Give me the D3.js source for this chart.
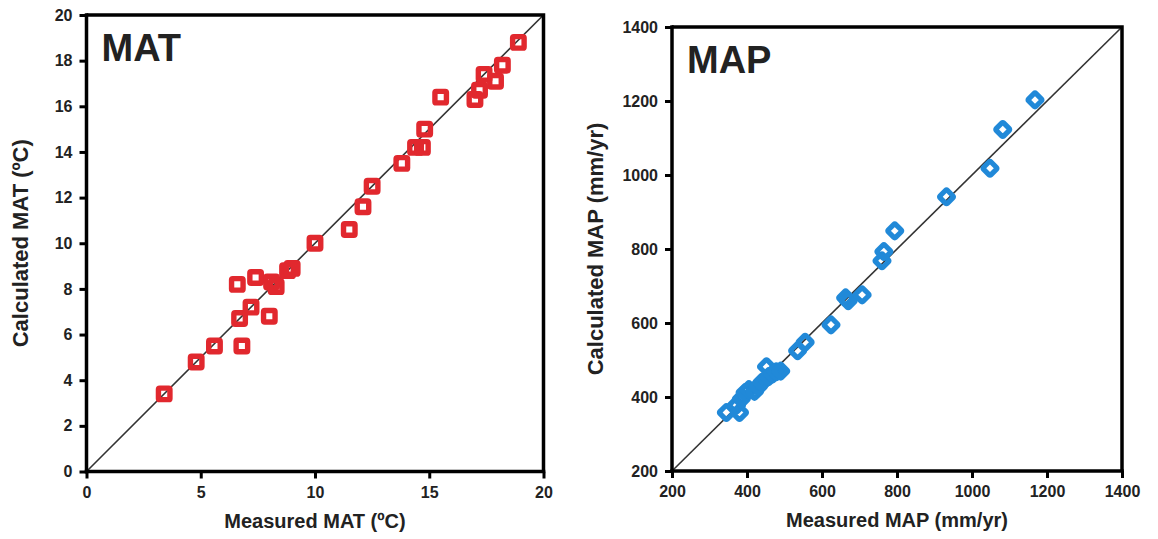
<!DOCTYPE html>
<html>
<head>
<meta charset="utf-8">
<script src="https://cdn.jsdelivr.net/npm/d3@7"></script>
<style>
  html, body { margin: 0; padding: 0; background: #fff; }
  svg { display: block; }
  text { font-family: "Liberation Sans", Arial, sans-serif; font-weight: bold; fill: #222; }
</style>
</head>
<body>
<svg id="chart" width="1158" height="539"></svg>
<script>
// Mean annual temperature: measured vs calculated (°C)
const matMeasured   = [3.4, 4.8, 5.6, 6.6, 6.7, 6.8, 7.2, 7.4, 8.0, 8.1, 8.3, 8.8, 9.0, 10.0, 11.5, 12.1, 12.5, 13.8, 14.4, 14.7, 14.8, 15.5, 17.0, 17.2, 17.4, 17.9, 18.2, 18.9];
const matCalculated = [3.4, 4.8, 5.5, 8.2, 6.7, 5.5, 7.2, 8.5, 6.8, 8.3, 8.1, 8.8, 8.9, 10.0, 10.6, 11.6, 12.5, 13.5, 14.2, 14.2, 15.0, 16.4, 16.3, 16.7, 17.4, 17.1, 17.8, 18.8];

// Mean annual precipitation: measured vs calculated (mm/yr)
const mapMeasured   = [345, 372, 380, 385, 395, 405, 420, 430, 440, 452, 458, 468, 478, 490, 535, 555, 624, 663, 670, 707, 760, 765, 794, 932, 1048, 1082, 1168];
const mapCalculated = [358, 378, 358, 395, 412, 420, 415, 428, 440, 482, 455, 462, 468, 470, 525, 548, 595, 668, 660, 676, 768, 793, 849, 941, 1018, 1123, 1203];

// Tick values
const matTicksX = [0, 5, 10, 15, 20];
const matTicksY = [0, 2, 4, 6, 8, 10, 12, 14, 16, 18, 20];
const mapTicks  = [200, 400, 600, 800, 1000, 1200, 1400];

const svg = d3.select("#chart");

function panel(opts) {
  const { left, right, top, bottom, domain, ticksX, ticksY, xs, ys, title, xLabel, yLabel,
          yLabelX, marker, color } = opts;
  const x = d3.scaleLinear().domain(domain).range([left, right]);
  const y = d3.scaleLinear().domain(domain).range([bottom, top]);
  const g = svg.append("g");

  // 1:1 line
  g.append("line")
    .attr("x1", x(domain[0])).attr("y1", y(domain[0]))
    .attr("x2", x(domain[1])).attr("y2", y(domain[1]))
    .attr("stroke", "#333").attr("stroke-width", 1.6);

  // markers: hollow squares, or hollow squares turned 45° for diamonds
  const pts = xs.map((v, i) => [v, ys[i]]);
  const s = marker === "square" ? 11.5 : 10.5;
  g.append("g").selectAll("rect").data(pts).join("rect")
    .attr("x", -s / 2).attr("y", -s / 2)
    .attr("width", s).attr("height", s)
    .attr("rx", 1.2)
    .attr("fill", "none")
    .attr("stroke", color)
    .attr("stroke-width", marker === "square" ? 5.4 : 5.2)
    .attr("transform", d => `translate(${x(d[0])},${y(d[1])})` + (marker === "diamond" ? " rotate(45)" : ""));

  // frame (top and right)
  g.append("path")
    .attr("d", `M${left},${top}H${right}V${bottom}`)
    .attr("fill", "none").attr("stroke", "#000").attr("stroke-width", 3.5)
    .attr("stroke-linejoin", "miter");

  // axes
  const fmt = d3.format("d");
  const xAxis = d3.axisBottom(x).tickValues(ticksX).tickFormat(fmt).tickSize(7).tickPadding(8).tickSizeOuter(0);
  const yAxis = d3.axisLeft(y).tickValues(ticksY).tickFormat(fmt).tickSize(7).tickPadding(7).tickSizeOuter(0);

  const gx = g.append("g").attr("transform", `translate(0,${bottom})`).call(xAxis);
  const gy = g.append("g").attr("transform", `translate(${left},0)`).call(yAxis);
  [gx, gy].forEach(a => {
    a.select(".domain").attr("stroke", "#000").attr("stroke-width", 3.5);
    a.selectAll(".tick line").attr("stroke", "#000").attr("stroke-width", 3);
    a.selectAll(".tick text").style("font-size", "16px").attr("fill", "#222")
      .style("font-family", '"Liberation Sans", Arial, sans-serif').style("font-weight", "bold");
  });
  // extend domains so corners meet cleanly
  gx.select(".domain").attr("d", `M${left - 1.75},0H${right + 1.75}`);
  gy.select(".domain").attr("d", `M0,${top - 1.75}V${bottom + 1.75}`);

  // panel title
  g.append("text").attr("x", left + 15).attr("y", top + 46)
    .style("font-size", "38px").text(title);

  // axis titles
  g.append("text")
    .attr("x", (left + right) / 2).attr("y", bottom + 56)
    .attr("text-anchor", "middle").style("font-size", "20px")
    .text(xLabel);
  g.append("text")
    .attr("transform", `translate(${yLabelX},${(top + bottom) / 2}) rotate(-90)`)
    .attr("text-anchor", "middle").style("font-size", "22px")
    .text(yLabel);
}

panel({
  left: 86.5, right: 543.5, top: 15, bottom: 471.5,
  domain: [0, 20], ticksX: matTicksX, ticksY: matTicksY,
  xs: matMeasured, ys: matCalculated,
  title: "MAT", xLabel: "Measured MAT (ºC)", yLabel: "Calculated MAT (ºC)",
  yLabelX: 28, marker: "square", color: "#e1282e"
});

panel({
  left: 672, right: 1122, top: 27, bottom: 471,
  domain: [200, 1400], ticksX: mapTicks, ticksY: mapTicks,
  xs: mapMeasured, ys: mapCalculated,
  title: "MAP", xLabel: "Measured MAP (mm/yr)", yLabel: "Calculated MAP (mm/yr)",
  yLabelX: 603, marker: "diamond", color: "#2189d8"
});
</script>
</body>
</html>
